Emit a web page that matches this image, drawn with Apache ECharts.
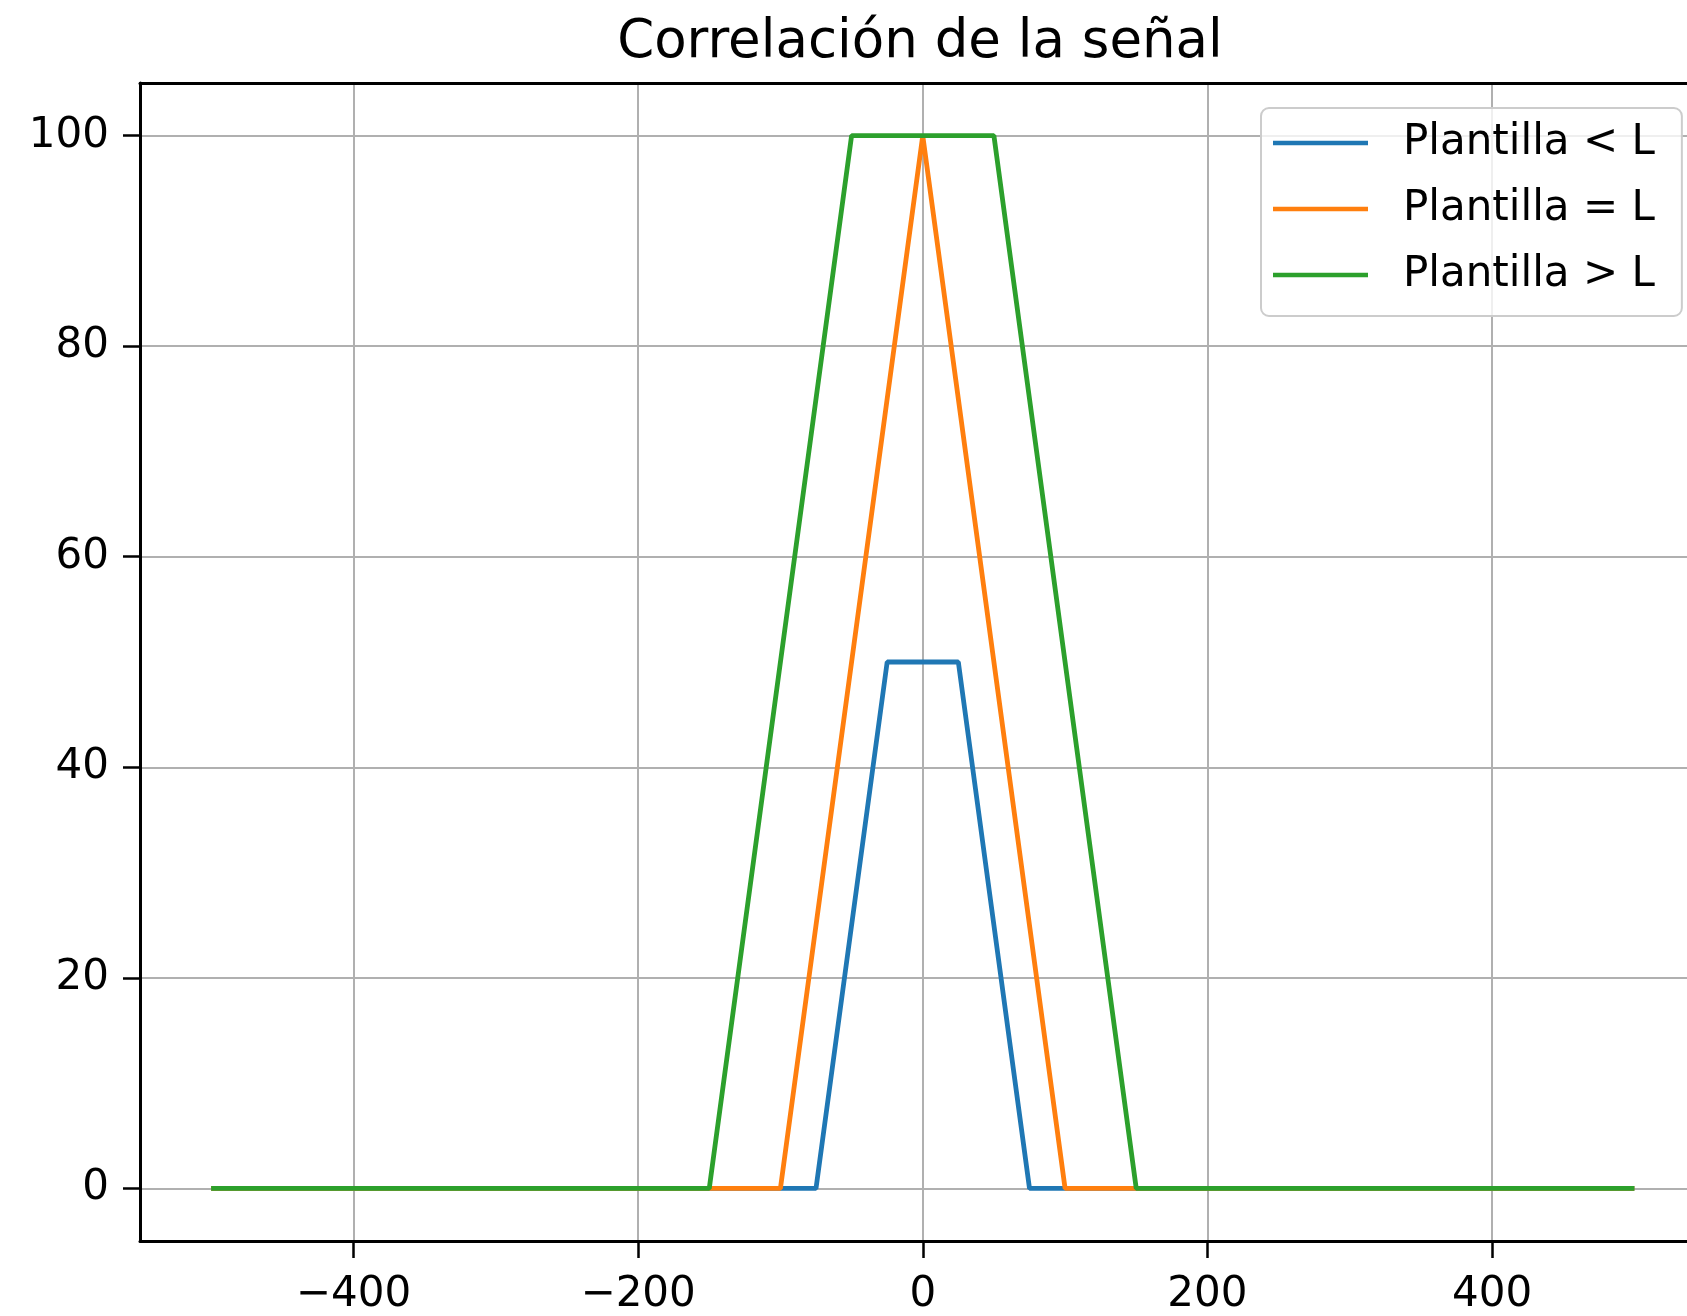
<!DOCTYPE html>
<html>
<head>
<meta charset="utf-8">
<script src="https://cdn.jsdelivr.net/npm/echarts@6/dist/echarts.min.js"></script>
<style>
html,body{margin:0;padding:0;background:#fff;}
#chart{width:1687px;height:1316px;}
</style>
</head>
<body>
<div id="chart"></div>
<script>
const titleText = 'Correlación de la señal';
const seriesNames = ['Plantilla < L', 'Plantilla = L', 'Plantilla > L'];
const lessX = [-500, -75, -25, 25, 75, 500];
const lessY = [0, 0, 50, 50, 0, 0];
const equalX = [-500, -100, 0, 100, 500];
const equalY = [0, 0, 100, 0, 0];
const greaterX = [-500, -150, -50, 50, 150, 500];
const greaterY = [0, 0, 100, 100, 0, 0];
const xTicks = [-400, -200, 0, 200, 400];
const yTicks = [0, 20, 40, 60, 80, 100];

const colors = ['#1f77b4', '#ff7f0e', '#2ca02c'];
const pair = (xs, ys) => xs.map((x, i) => [x, ys[i]]);
const fmt = v => String(v).replace('-', '\u2212');
const font = 'DejaVu Sans';

const chart = echarts.init(document.getElementById('chart'), null, {renderer: 'canvas'});
const mk = (name, data, c) => ({
  name, type: 'line', data, showSymbol: false, symbol: 'none',
  xAxisIndex: 0, yAxisIndex: 0,
  lineStyle: {color: c, width: 4.8}, itemStyle: {color: c},
  emphasis: {disabled: true}, animation: false
});
const spine = {show: true, onZero: false, lineStyle: {color: '#000', width: 3}};
chart.setOption({
  animation: false,
  backgroundColor: '#fff',
  graphic: [{
    type: 'text', x: 920, y: 43, z: 10,
    style: {text: titleText, font: '53px "DejaVu Sans"', fill: '#000', textAlign: 'center', textVerticalAlign: 'middle'}
  }],
  grid: {left: 140, top: 83, right: 0, bottom: 74, show: false, containLabel: false},
  legend: {
    orient: 'vertical', left: 1261, top: 108,
    data: seriesNames,
    icon: 'rect', itemWidth: 95, itemHeight: 4.5, itemGap: 16,
    backgroundColor: 'rgba(255,255,255,0.8)', borderColor: '#cccccc', borderWidth: 2, borderRadius: 8,
    padding: [10, 27, 16, 12],
    textStyle: {fontFamily: font, fontSize: 42, color: '#000', lineHeight: 50, padding: [0, 0, 0, 30]},
    selectedMode: false, z: 20
  },
  xAxis: [{
    type: 'value', min: -550, max: 537, position: 'bottom',
    axisLine: spine,
    axisTick: {show: true, customValues: xTicks, length: 17, lineStyle: {color: '#000', width: 2.5}},
    axisLabel: {customValues: xTicks, formatter: fmt, fontFamily: font, fontSize: 42, color: '#000', margin: 33},
    splitLine: {show: true, customValues: xTicks, lineStyle: {color: '#b0b0b0', width: 2}}
  }, {
    type: 'value', min: -550, max: 537, position: 'top',
    axisLine: spine, axisTick: {show: false}, axisLabel: {show: false}, splitLine: {show: false}
  }],
  yAxis: {
    type: 'value', min: -5, max: 105, position: 'left',
    axisLine: spine,
    axisTick: {show: true, customValues: yTicks, length: 17, lineStyle: {color: '#000', width: 2.5}},
    axisLabel: {customValues: yTicks, formatter: fmt, fontFamily: font, fontSize: 42, color: '#000', margin: 31},
    splitLine: {show: true, customValues: yTicks, lineStyle: {color: '#b0b0b0', width: 2}}
  },
  series: [
    mk(seriesNames[0], pair(lessX, lessY), colors[0]),
    mk(seriesNames[1], pair(equalX, equalY), colors[1]),
    mk(seriesNames[2], pair(greaterX, greaterY), colors[2])
  ]
});
</script>
</body>
</html>
